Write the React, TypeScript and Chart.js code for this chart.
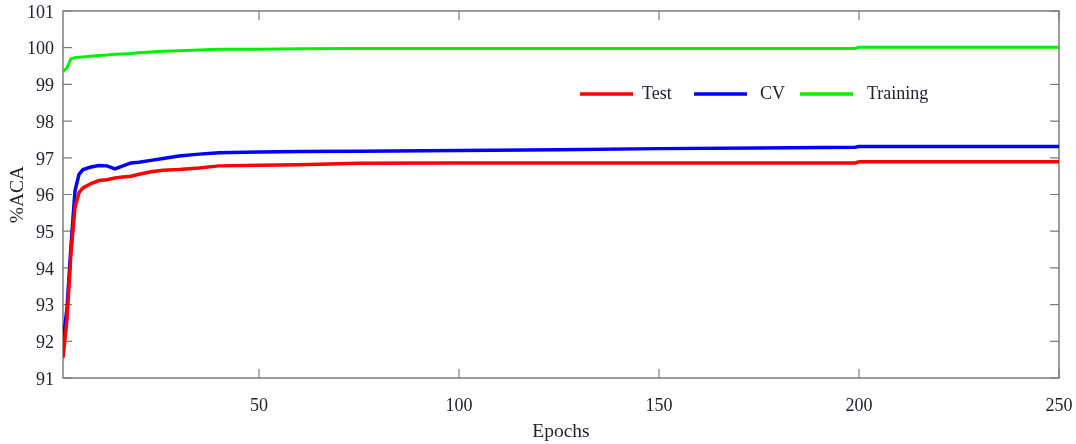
import React, { useEffect, useRef } from 'react';
import { Chart, registerables } from 'chart.js';

Chart.register(...registerables);

// ---- Data ----
const epochs = [1, 2, 3, 4, 5, 6, 8, 10, 12, 14, 16, 18, 20, 23, 26, 30, 35, 40, 50, 60, 75, 100, 125, 150, 175, 199, 200, 250];
const testAca = [91.55, 92.6, 94.4, 95.65, 96.05, 96.18, 96.3, 96.38, 96.4, 96.45, 96.48, 96.5, 96.55, 96.62, 96.66, 96.68, 96.72, 96.78, 96.8, 96.81, 96.85, 96.86, 96.86, 96.86, 96.86, 96.86, 96.89, 96.89];
const cvAca = [92.0, 92.9, 94.6, 96.1, 96.55, 96.68, 96.75, 96.79, 96.78, 96.7, 96.78, 96.86, 96.88, 96.93, 96.98, 97.05, 97.1, 97.14, 97.16, 97.17, 97.18, 97.2, 97.22, 97.25, 97.27, 97.29, 97.31, 97.31];
const trainingAca = [99.35, 99.45, 99.7, 99.73, 99.74, 99.75, 99.77, 99.79, 99.8, 99.82, 99.83, 99.84, 99.86, 99.88, 99.9, 99.92, 99.94, 99.96, 99.96, 99.97, 99.98, 99.98, 99.98, 99.98, 99.98, 99.98, 100.01, 100.01];

const seriesLabels = ['Test', 'CV', 'Training'];
const seriesColors = ['#ff0000', '#0000ff', '#00f000'];
const xTickValues = [50, 100, 150, 200, 250];
const yTickValues = [91, 92, 93, 94, 95, 96, 97, 98, 99, 100, 101];
const xTitle = 'Epochs';
const yTitle = '%ACA';

// ---- Styles ----
const FONT = "'Liberation Serif', 'Times New Roman', serif";
const TEXT = '#222230';
const FRAME = '#7c7c7c';
const LEGEND_LINE_X = [580, 694, 800];
const LEGEND_TEXT_X = [642, 760, 867];
const LEGEND_Y = 94;
const LEGEND_LINE_LEN = 53;

const framePlugin = {
  id: 'frameTicks',
  beforeDatasetsDraw(chart: any) {
    const { ctx, chartArea, scales } = chart;
    const { left, right, top, bottom } = chartArea;
    ctx.save();
    ctx.strokeStyle = FRAME;
    ctx.lineWidth = 1.5;
    ctx.strokeRect(left, top, right - left, bottom - top);
    ctx.lineWidth = 1.2;
    const len = 9;
    yTickValues.forEach((v) => {
      const y = scales.y.getPixelForValue(v);
      ctx.beginPath();
      ctx.moveTo(left, y);
      ctx.lineTo(left + len, y);
      ctx.moveTo(right, y);
      ctx.lineTo(right - len, y);
      ctx.stroke();
    });
    xTickValues.forEach((v) => {
      const x = scales.x.getPixelForValue(v);
      ctx.beginPath();
      ctx.moveTo(x, bottom);
      ctx.lineTo(x, bottom - len);
      ctx.moveTo(x, top);
      ctx.lineTo(x, top + len);
      ctx.stroke();
    });
    ctx.restore();
  },
};

const legendPlugin = {
  id: 'insideLegend',
  afterDraw(chart: any) {
    const { ctx } = chart;
    ctx.save();
    ctx.font = `18px ${FONT}`;
    ctx.textBaseline = 'middle';
    ctx.textAlign = 'left';
    chart.data.datasets.forEach((ds: any, i: number) => {
      ctx.strokeStyle = ds.borderColor;
      ctx.lineWidth = 3.5;
      ctx.beginPath();
      ctx.moveTo(LEGEND_LINE_X[i], LEGEND_Y);
      ctx.lineTo(LEGEND_LINE_X[i] + LEGEND_LINE_LEN, LEGEND_Y);
      ctx.stroke();
      ctx.fillStyle = TEXT;
      ctx.fillText(ds.label, LEGEND_TEXT_X[i], LEGEND_Y + 0.5);
    });
    ctx.restore();
  },
};

export default function App() {
  const canvasRef = useRef<HTMLCanvasElement | null>(null);

  useEffect(() => {
    if (!canvasRef.current) return;
    const seriesValues = [testAca, cvAca, trainingAca];
    const chart = new Chart(canvasRef.current, {
      type: 'line',
      data: {
        datasets: seriesValues.map((vals, i) => ({
          label: seriesLabels[i],
          data: epochs.map((e, j) => ({ x: e, y: vals[j] })),
          borderColor: seriesColors[i],
          backgroundColor: seriesColors[i],
          borderWidth: i === 2 ? 3 : 3.5,
          pointRadius: 0,
          tension: 0,
          fill: false,
        })),
      },
      options: {
        animation: false,
        responsive: false,
        devicePixelRatio: 1,
        layout: { padding: { top: 11, right: 17, left: 0, bottom: 0 } },
        plugins: {
          legend: { display: false },
          tooltip: { enabled: false },
        },
        scales: {
          x: {
            type: 'linear',
            min: 1,
            max: 250,
            grid: { display: false, drawTicks: false },
            border: { display: false },
            afterBuildTicks: (scale: any) => {
              scale.ticks = xTickValues.map((v) => ({ value: v }));
            },
            afterFit: (scale: any) => {
              scale.height = 66;
              scale.paddingLeft = 0;
              scale.paddingRight = 0;
            },
            ticks: {
              font: { family: FONT, size: 18 },
              color: TEXT,
              padding: 17,
              maxRotation: 0,
              autoSkip: false,
            },
            title: {
              display: true,
              text: xTitle,
              font: { family: FONT, size: 19.5 },
              color: TEXT,
              padding: { top: 0, bottom: 0 },
            },
          },
          y: {
            type: 'linear',
            min: 91,
            max: 101,
            grid: { display: false, drawTicks: false },
            border: { display: false },
            afterBuildTicks: (scale: any) => {
              scale.ticks = yTickValues.map((v) => ({ value: v }));
            },
            afterFit: (scale: any) => {
              scale.width = 63;
              scale.paddingTop = 0;
              scale.paddingBottom = 0;
            },
            ticks: {
              font: { family: FONT, size: 18 },
              color: TEXT,
              padding: 9,
              labelOffset: 2,
              autoSkip: false,
            },
            title: {
              display: true,
              text: yTitle,
              font: { family: FONT, size: 19.5 },
              color: TEXT,
              padding: { top: 6, bottom: 0 },
            },
          },
        },
      },
      plugins: [framePlugin, legendPlugin],
    });
    return () => chart.destroy();
  }, []);

  return (
    <div style={{ position: 'absolute', left: 0, top: 0, width: 1076, height: 444, background: '#fff' }}>
      <canvas ref={canvasRef} width={1076} height={444} />
    </div>
  );
}
